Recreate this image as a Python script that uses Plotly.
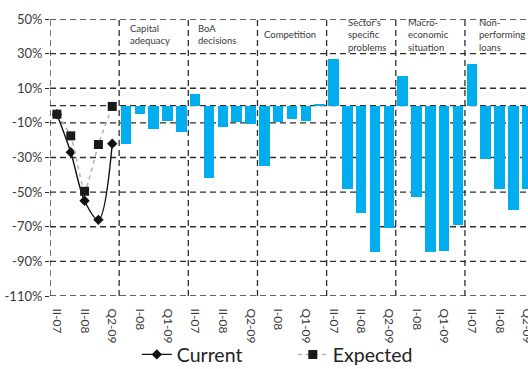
import plotly.graph_objects as go

# Survey periods repeated inside every block
quarters = ["II-07", "I-08", "II-08", "Q1-09", "Q2-09"]

# Overall credit standards (line block)
current = [-5, -27, -55, -66, -22]
expected = [-5, -17.5, -49.5, -22.5, -0.5]

# Factor blocks (bars)
factor_names = [
    ["Capital", "adequacy"],
    ["BoA", "decisions"],
    ["Competition"],
    ["Sector\u2019s", "specific", "problems"],
    ["Macro-", "economic", "situation"],
    ["Non-", "performing", "loans"],
]
capital_adequacy = [-22, -5, -13.5, -9, -15]
boa_decisions = [6.5, -42, -12.5, -9.5, -10.5]
competition = [-35, -9.5, -8, -9, 1]
sector_problems = [27, -48, -62, -84.5, -71]
macro_situation = [17, -53, -84.5, -84, -69]
non_performing = [24, -31, -48, -60.5, -48]

factor_values = [capital_adequacy, boa_decisions, competition,
                 sector_problems, macro_situation, non_performing]

y_ticks = [50, 30, 10, -10, -30, -50, -70, -90, -110]
h_lines = [50, 30, 10, 0, -10, -30, -50, -70, -90, -110]

FONT = "Lato, 'Open Sans', sans-serif"
TXT = "#3a3a3a"
GRID = "#2e2e2e"
BLUE = "#00AEEF"

n_q = len(quarters)
n_blocks = 1 + len(factor_values)
all_labels = quarters * n_blocks
positions = list(range(len(all_labels)))

bar_x, bar_y = [], []
for b, vals in enumerate(factor_values):
    for i, v in enumerate(vals):
        bar_x.append((b + 1) * n_q + i)
        bar_y.append(v)

fig = go.Figure()

fig.add_trace(go.Bar(
    x=bar_x, y=bar_y, marker=dict(color=BLUE, line=dict(width=0)),
    width=0.76, showlegend=False, hoverinfo="skip",
))

fig.add_trace(go.Scatter(
    x=positions[:n_q], y=current, name="Current", mode="lines+markers",
    line=dict(color="#111111", width=1.4, shape="spline", smoothing=1.0),
    marker=dict(symbol="diamond", size=8, color="#111111"),
))
fig.add_trace(go.Scatter(
    x=positions[:n_q], y=expected, name="Expected", mode="lines+markers",
    line=dict(color="#b0b0b0", width=1.5, dash="4px,4px", shape="spline", smoothing=0.5),
    marker=dict(symbol="square", size=9, color="#1a1a1a"),
))

shapes = []
for v in h_lines:
    shapes.append(dict(type="line", xref="paper", yref="y", x0=0, x1=1, y0=v, y1=v,
                       line=dict(color=GRID, width=1.3, dash="6px,4px"), layer="below"))
for b in range(n_blocks):
    xb = b * n_q - 0.5
    shapes.append(dict(type="line", xref="x", yref="paper", x0=xb, x1=xb, y0=0, y1=1,
                       line=dict(color=GRID, width=1.3, dash="6px,4px"), layer="below"))

# Block titles
plot_top, plot_h = 19, 277
title_offsets = [0.63, 0.58, 0.34, 1.37, 0.72, 0.85]
annotations = []
for b, lines in enumerate(factor_names):
    x0 = (b + 1) * n_q - 0.5 + title_offsets[b]
    annotations.append(dict(
        text="<br>".join(lines), x=x0, xref="x",
        y=1 - (34.5 - plot_top) / plot_h, yref="paper",
        xanchor="left", yanchor="middle", align="left", showarrow=False,
        font=dict(family=FONT, size=9.5, color=TXT),
    ))

fig.update_layout(
    width=528, height=369,
    margin=dict(l=50, r=0, t=19, b=73, autoexpand=False),
    paper_bgcolor="white", plot_bgcolor="white",
    font=dict(family=FONT, color=TXT),
    bargap=0,
    shapes=shapes, annotations=annotations,
    xaxis=dict(
        range=[-0.5, 34.06], showgrid=False, zeroline=False, showline=False,
        tickmode="array", tickvals=positions[::2], ticktext=all_labels[::2],
        tickangle=90, tickfont=dict(size=12, color=TXT),
        ticks="outside", ticklen=9, tickcolor="rgba(0,0,0,0)",
        ticklabeloverflow="allow", automargin=False,
    ),
    yaxis=dict(
        range=[-110, 50], showgrid=False, zeroline=False, showline=False,
        tickmode="array", tickvals=y_ticks, ticktext=[f"{v}%" for v in y_ticks],
        tickfont=dict(size=13, color=TXT), ticks="outside", ticklen=4,
        tickcolor=GRID, tickwidth=1.3, automargin=False,
    ),
    legend=dict(
        orientation="h", x=0.508, xanchor="center", y=-0.212, yanchor="middle",
        font=dict(family=FONT, size=19.5, color="#222222"), entrywidth=111,
        bgcolor="rgba(0,0,0,0)",
    ),
)

fig.write_html("out.html")
